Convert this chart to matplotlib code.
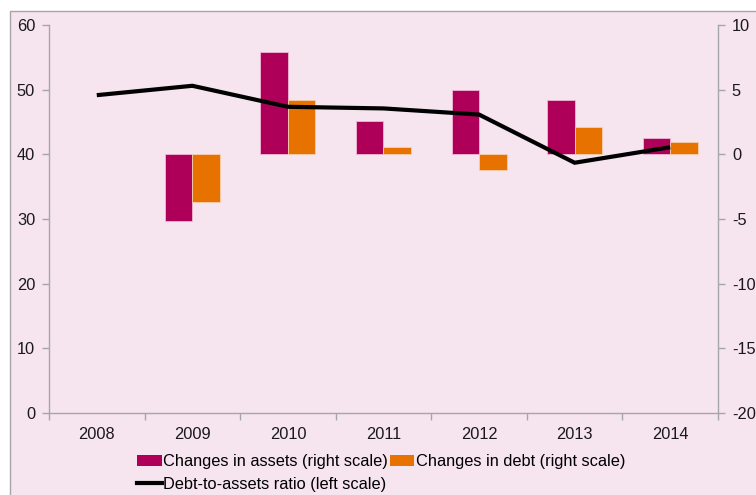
import matplotlib
matplotlib.use("Agg")
import matplotlib.pyplot as plt
from matplotlib.patches import Rectangle
from matplotlib.lines import Line2D
import numpy as np

years = ["2008", "2009", "2010", "2011", "2012", "2013", "2014"]
debt_to_assets = [49.15, 50.6, 47.35, 47.1, 46.15, 38.7, 41.1]
asset_changes = [np.nan, -5.17, 7.9, 2.55, 5.0, 4.2, 1.27]
debt_changes = [np.nan, -3.72, 4.17, 0.54, -1.24, 2.12, 0.98]

left_ticks = [0, 10, 20, 30, 40, 50, 60]
right_ticks = [-20, -15, -10, -5, 0, 5, 10]

plt.rcParams["font.family"] = ["Liberation Sans", "DejaVu Sans"]

W, H = 756, 495
fig = plt.figure(figsize=(W / 100, H / 100), dpi=100, facecolor="white")

bg = "#F6E4EF"
axis_grey = "#A6A6A6"
fig.patches.append(Rectangle((10 / W, -0.01), 1.0, 1 - 11 / H + 0.01,
                             transform=fig.transFigure, facecolor=bg,
                             edgecolor=axis_grey, linewidth=1.0, zorder=-5))

ax1 = fig.add_axes([49 / W, (H - 413) / H, (718 - 49) / W, (413 - 25) / H])
ax2 = ax1.twinx()
ax2.set_zorder(1)
ax1.set_zorder(2)
ax1.patch.set_visible(False)
ax2.patch.set_visible(False)

x = np.arange(len(years))
bw = 0.288
assets_col = "#AE0058"
debt_col = "#E87200"
ax2.bar(x - bw / 2, asset_changes, width=bw, color=assets_col,
        edgecolor="#F0B8D4", linewidth=0.6)
ax2.bar(x + bw / 2, debt_changes, width=bw, color=debt_col,
        edgecolor="#F8D0B0", linewidth=0.6)

ax1.plot(x, debt_to_assets, color="black", linewidth=3.0,
         solid_capstyle="butt", solid_joinstyle="miter")

fs = 11.8
ax1.set_xlim(-0.5, len(years) - 0.5)
ax1.set_ylim(0, 60)
ax2.set_ylim(-20, 10)
ax1.set_yticks(left_ticks)
ax2.set_yticks(right_ticks)
ax1.set_yticklabels([str(t) for t in left_ticks])
ax2.set_yticklabels([str(t) for t in right_ticks])

ax1.set_xticks(x)
ax1.set_xticklabels(years)
ax1.set_xticks(np.arange(-0.5, len(years), 1.0), minor=True)
ax1.tick_params(axis="x", which="major", length=0, pad=10, labelsize=fs,
                colors="#1a1a1a")
ax1.tick_params(axis="x", which="minor", length=5, width=1, color=axis_grey,
                direction="out")
ax1.tick_params(axis="y", length=5, width=1, color=axis_grey, labelsize=fs,
                labelcolor="#1a1a1a", pad=5)
ax2.tick_params(axis="y", length=5, width=1, color=axis_grey, labelsize=fs,
                labelcolor="#1a1a1a", pad=5)

for ax in (ax1, ax2):
    ax.spines["top"].set_visible(False)
    for side in ("left", "right", "bottom"):
        ax.spines[side].set_color(axis_grey)
        ax.spines[side].set_linewidth(1.0)
ax2.spines["bottom"].set_visible(False)
ax1.spines["right"].set_visible(False)
ax2.spines["left"].set_visible(False)

handles = [
    Rectangle((0, 0), 1, 1, facecolor=assets_col, edgecolor="none"),
    Line2D([0], [0], color="black", linewidth=3.0),
    Rectangle((0, 0), 1, 1, facecolor=debt_col, edgecolor="none"),
]
labels = [
    "Changes in assets (right scale)",
    "Debt-to-assets ratio (left scale)",
    "Changes in debt (right scale)",
]
fig.legend(handles, labels, ncol=2, loc="upper left",
           bbox_to_anchor=(137 / W, 1 - 454 / H), frameon=False,
           fontsize=fs, handlelength=1.5, handleheight=0.7,
           handletextpad=0.1, columnspacing=0.1, labelspacing=0.5,
           borderpad=0, borderaxespad=0)

fig.savefig("out.png", dpi=100, facecolor=fig.get_facecolor())
